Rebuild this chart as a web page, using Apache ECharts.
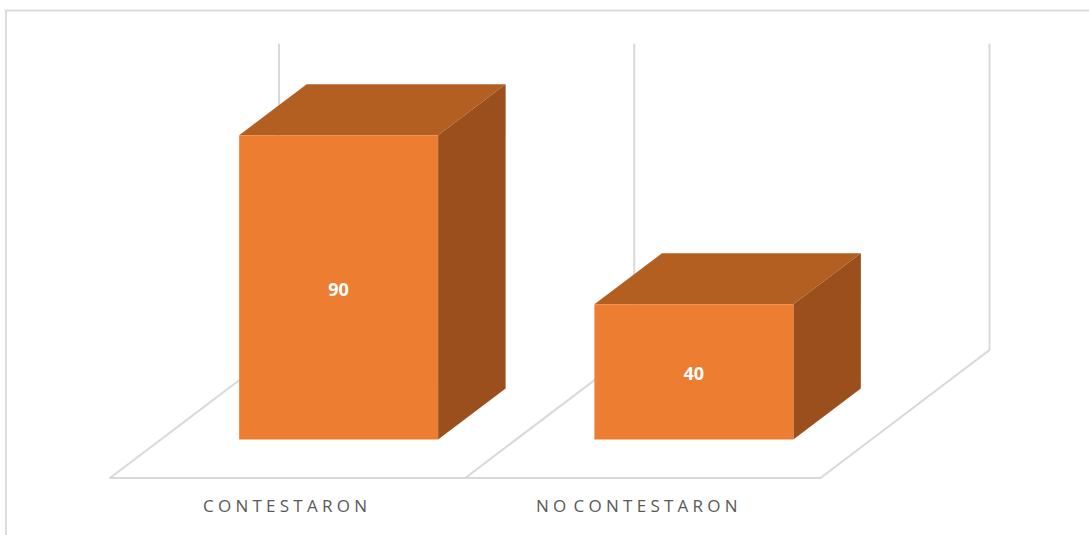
<!DOCTYPE html>
<html>
<head>
<meta charset="utf-8">
<style>
html,body{margin:0;padding:0;background:#fff;}
#chart{width:1089px;height:535px;}
#chart text[style*="17px"]{letter-spacing:4.25px;word-spacing:-5.5px;}
</style>
<script src="https://cdn.jsdelivr.net/npm/echarts@6/dist/echarts.min.js"></script>
</head>
<body>
<div id="chart"></div>
<script>
const categories = ['CONTESTARON', 'NO CONTESTARON'];
const values = [90, 40];
const yTicks = [0, 100];

const LINE = '#d9d9d9';
const FLOOR_DX = 169, FLOOR_DY = -128;     // depth of the floor
const BAR_DX = 51, BAR_DY = -38.5;         // where the bars sit on the floor
const BAR_DEPTH_X = 67.5, BAR_DEPTH_Y = -51;  // depth of a bar
const BAR_RATIO = 0.56;
const WALL_SCALE = 0.906;                  // back wall is foreshortened

const chart = echarts.init(document.getElementById('chart'), null, {renderer: 'svg'});

function wallItem(params, api) {
  const i = api.value(0);
  const band = api.size([1, 0])[0];
  const base = api.coord([0, 0]);
  const top = api.coord([0, yTicks[1]]);
  const x0 = base[0] - band / 2 + i * band;
  const y0 = base[1];
  const bx = x0 + FLOOR_DX, by = y0 + FLOOR_DY;
  const wallH = (y0 - top[1]) * WALL_SCALE;
  return {
    type: 'polyline',
    shape: {points: [[x0, y0], [bx, by], [bx, by - wallH]]},
    style: {stroke: LINE, lineWidth: 2, fill: null},
    silent: true
  };
}

function barItem(params, api) {
  const idx = api.value(0);
  const v = api.value(1);
  const band = api.size([1, 0])[0];
  const w = band * BAR_RATIO;
  const base = api.coord([idx, 0]);
  const topP = api.coord([idx, v]);
  const xl = base[0] - w / 2 + BAR_DX, xr = xl + w;
  const yb = base[1] + BAR_DY, yt = topP[1] + BAR_DY;
  const dx = BAR_DEPTH_X, dy = BAR_DEPTH_Y;
  return {
    type: 'group',
    children: [
      {type: 'polygon', shape: {points: [[xl, yt], [xr, yt], [xr + dx, yt + dy], [xl + dx, yt + dy]]},
        style: {fill: '#b45f22'}},
      {type: 'polygon', shape: {points: [[xr, yt], [xr + dx, yt + dy], [xr + dx, yb + dy], [xr, yb]]},
        style: {fill: '#9a4f1c'}},
      {type: 'rect', shape: {x: xl, y: yt, width: w, height: yb - yt},
        style: {fill: '#ed7d31'}},
      {type: 'text', x: (xl + xr) / 2, y: (yt + yb) / 2 + 1.5,
        style: {text: String(v), fill: '#fff', align: 'center', verticalAlign: 'middle',
          font: '700 18px "Open Sans"'}}
    ]
  };
}

chart.setOption({
  animation: false,
  backgroundColor: '#fff',
  graphic: [{
    type: 'rect', silent: true, z: -1,
    shape: {x: 6, y: 10.5, width: 1100, height: 540},
    style: {fill: 'none', stroke: '#dcdcdc', lineWidth: 2}
  }],
  grid: {left: 110, right: 268.5, top: 140, bottom: 57, containLabel: false},
  xAxis: {
    type: 'category',
    data: categories.map(function (c, i) {
      return {value: c, textStyle: i === 1 ? {padding: [0, 8, 0, 0]} : {padding: [0, 1, 0, 0]}};
    }),
    boundaryGap: true,
    axisTick: {show: false},
    axisLine: {show: true, lineStyle: {color: LINE, width: 2}},
    axisLabel: {interval: 0, margin: 19, color: '#595959', fontFamily: 'Open Sans', fontSize: 17}
  },
  yAxis: {type: 'value', min: yTicks[0], max: yTicks[1], show: false},
  series: [
    {type: 'custom', renderItem: wallItem, data: [[0], [1], [2]], z: 1, silent: true,
      encode: {x: 0, y: -1}, clip: false},
    {type: 'custom', renderItem: barItem, data: values.map(function (v, i) { return [i, v]; }), z: 2,
      encode: {x: 0, y: 1}, clip: false}
  ]
});
</script>
</body>
</html>
